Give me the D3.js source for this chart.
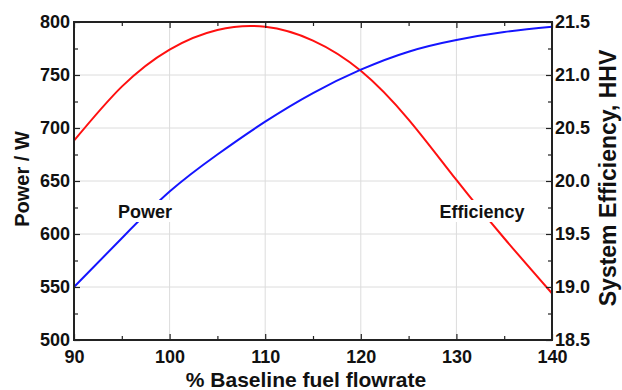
<!DOCTYPE html>
<html><head><meta charset="utf-8">
<script src="https://cdn.jsdelivr.net/npm/d3@7"></script>
<style>body{margin:0;background:#fff}svg{display:block}text{font-family:"Liberation Sans",Arial,Helvetica,sans-serif;font-weight:bold;fill:#111}</style>
</head><body><svg id="c" width="622" height="390"></svg>
<script>
// Data
const flowrate = [90, 95, 100, 105, 110, 115, 120, 125, 130, 135, 140];
const powerW   = [688, 739, 774, 792.5, 795.5, 782.5, 754, 708, 651, 596, 544];
const efficiency = [19.00, 19.46, 19.90, 20.25, 20.56, 20.83, 21.05, 21.22, 21.33, 21.405, 21.455];
const xTicks = [90, 100, 110, 120, 130, 140];
const yLeftTicks = [500, 550, 600, 650, 700, 750, 800];
const yRightTicks = [18.5, 19.0, 19.5, 20.0, 20.5, 21.0, 21.5];

const m = {l: 74, r: 552, t: 22, b: 340};
const svg = d3.select("#c");
const x = d3.scaleLinear().domain([90, 140]).range([m.l, m.r]);
const yL = d3.scaleLinear().domain([500, 800]).range([m.b, m.t]);
const yR = d3.scaleLinear().domain([18.5, 21.5]).range([m.b, m.t]);

// gridlines
const g = svg.append("g").attr("stroke", "#dcdcdc").attr("stroke-width", 1);
xTicks.slice(1, -1).forEach(v => g.append("line").attr("x1", x(v)).attr("x2", x(v)).attr("y1", m.t).attr("y2", m.b));
yLeftTicks.slice(1, -1).forEach(v => g.append("line").attr("x1", m.l).attr("x2", m.r).attr("y1", yL(v)).attr("y2", yL(v)));

// curves
const lp = d3.line().x((d, i) => x(flowrate[i])).y(d => yL(d)).curve(d3.curveNatural);
const le = d3.line().x((d, i) => x(flowrate[i])).y(d => yR(d)).curve(d3.curveNatural);
svg.append("path").attr("d", lp(powerW)).attr("fill", "none").attr("stroke", "#ff1010").attr("stroke-width", 2);
svg.append("path").attr("d", le(efficiency)).attr("fill", "none").attr("stroke", "#1515ff").attr("stroke-width", 2);

// axes (ticks inward)
function minor(domain, step) { const a = []; for (let v = domain[0]; v <= domain[1] + 1e-9; v += step) a.push(+v.toFixed(3)); return a; }
const mx = minor([95, 135], 10), myL = minor([525, 775], 50), myR = minor([18.75, 21.25], 0.5);
svg.append("g").attr("transform", `translate(0,${m.b})`).call(d3.axisBottom(x).tickValues(mx).tickSize(-4).tickFormat(""));
svg.append("g").attr("transform", `translate(0,${m.t})`).call(d3.axisTop(x).tickValues(mx).tickSize(-4).tickFormat(""));
svg.append("g").attr("transform", `translate(${m.l},0)`).call(d3.axisLeft(yL).tickValues(myL).tickSize(-4).tickFormat(""));
svg.append("g").attr("transform", `translate(${m.r},0)`).call(d3.axisRight(yR).tickValues(myR).tickSize(-4).tickFormat(""));
const gB = svg.append("g").attr("transform", `translate(0,${m.b})`).call(d3.axisBottom(x).tickValues(xTicks).tickSize(-6).tickFormat(d3.format("d")));
svg.append("g").attr("transform", `translate(0,${m.t})`).call(d3.axisTop(x).tickValues(xTicks).tickSize(-6).tickFormat(""));
const gL = svg.append("g").attr("transform", `translate(${m.l},0)`).call(d3.axisLeft(yL).tickValues(yLeftTicks).tickSize(-6).tickFormat(d3.format("d")));
const gR = svg.append("g").attr("transform", `translate(${m.r},0)`).call(d3.axisRight(yR).tickValues(yRightTicks).tickSize(-6).tickFormat(d3.format(".1f")));
svg.selectAll(".domain").remove();
svg.selectAll(".tick line").attr("stroke", "#222").attr("stroke-width", 1.2);
svg.selectAll(".tick text").attr("font-size", 18).attr("font-family", "Liberation Sans, Arial, sans-serif").attr("font-weight", "bold").attr("fill", "#111");
gB.selectAll(".tick text").attr("y", 10);
gL.selectAll(".tick text").attr("x", -4);
gR.selectAll(".tick text").attr("x", 3);

// frame
svg.append("rect").attr("x", m.l).attr("y", m.t).attr("width", m.r - m.l).attr("height", m.b - m.t)
  .attr("fill", "none").attr("stroke", "#222").attr("stroke-width", 2);

// in-plot labels with white backing
function label(txt, cx, by) {
  const t = svg.append("text").attr("x", cx).attr("y", by).attr("text-anchor", "middle").attr("font-size", 18).text(txt);
  const bb = t.node().getBBox();
  svg.insert("rect", () => t.node()).attr("x", bb.x - 4).attr("y", by - 18).attr("width", bb.width + 8).attr("height", 22).attr("fill", "#fff");
}
label("Power", 145, 218);
label("Efficiency", 482, 218);

// axis titles
svg.append("text").attr("transform", "translate(29,179) rotate(-90)").attr("text-anchor", "middle").attr("font-size", 20).text("Power / W");
svg.append("text").attr("transform", "translate(616,178) rotate(-90)").attr("text-anchor", "middle").attr("font-size", 23).text("System Efficiency, HHV");
svg.append("text").attr("x", 306).attr("y", 387).attr("text-anchor", "middle").attr("font-size", 21).text("% Baseline fuel flowrate");
</script></body></html>
